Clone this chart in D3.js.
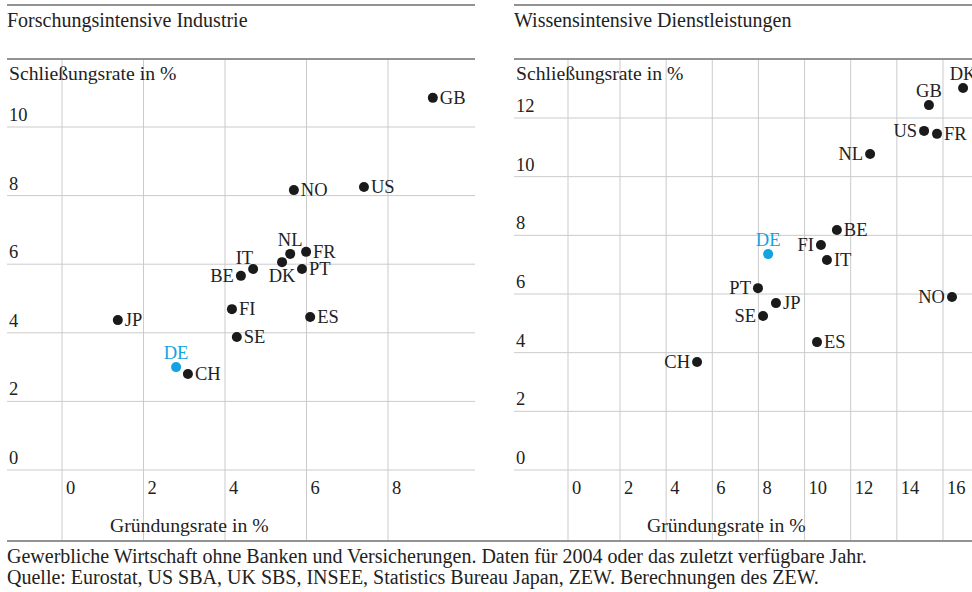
<!DOCTYPE html>
<html><head><meta charset="utf-8">
<script src="https://cdn.jsdelivr.net/npm/d3@7"></script>
<style>
body{margin:0;background:#fff}
svg{display:block}
text{font-family:"Liberation Serif","Times New Roman",serif;fill:#222}
</style>
</head><body><svg id="c" width="972" height="592"></svg>
<script>
// ---- data ----
const countriesIndustry   = ["GB","NO","US","NL","FR","IT","BE","DK","PT","FI","ES","JP","SE","DE","CH"];
const gruendungIndustry   = [9.1, 5.69, 7.41, 5.6, 5.99, 4.69, 4.39, 5.4, 5.89, 4.17, 6.09, 1.37, 4.29, 2.8, 3.09];
const schliessungIndustry = [10.85, 8.16, 8.25, 6.3, 6.36, 5.86, 5.66, 6.06, 5.86, 4.69, 4.46, 4.37, 3.88, 3.0, 2.8];

const countriesServices   = ["DK","GB","US","FR","NL","BE","FI","IT","DE","PT","JP","SE","NO","ES","CH"];
const gruendungServices   = [16.87, 15.39, 15.18, 15.74, 12.84, 11.4, 10.71, 10.97, 8.42, 7.98, 8.76, 8.2, 16.39, 10.54, 5.34];
const schliessungServices = [13.02, 12.44, 11.56, 11.46, 10.77, 8.18, 7.67, 7.16, 7.36, 6.2, 5.69, 5.25, 5.9, 4.36, 3.68];

const xTicksIndustry = [0,2,4,6,8];
const yTicksIndustry = [0,2,4,6,8,10];
const xTicksServices = [0,2,4,6,8,10,12,14,16];
const yTicksServices = [0,2,4,6,8,10,12];

const titles = ["Forschungsintensive Industrie","Wissensintensive Dienstleistungen"];
const yAxisTitle = "Schließungsrate in %";
const xAxisTitle = "Gründungsrate in %";
const footnotes = [
  "Gewerbliche Wirtschaft ohne Banken und Versicherungen. Daten für 2004 oder das zuletzt verfügbare Jahr.",
  "Quelle: Eurostat, US SBA, UK SBS, INSEE, Statistics Bureau Japan, ZEW. Berechnungen des ZEW."
];
const highlight = "DE";

// ---- layout ----
const svg = d3.select("#c");
const W = 972, H = 592;
const topLine = 5, plotTop = 59, plotBottom = 540;
const BLUE = "#13a3e0", DOT = "#1a1a1a", GRID = "#cbcbcb", RULE = "#6e6e6e";
const FS_TITLE = 20, FS_AXIS = 19.7, FS_TICK = 18.5, FS_LABEL = 18.5;

const labelSide = {
  industry: {GB:"r",NO:"r",US:"r",NL:"t",FR:"r",IT:"tl",BE:"l",DK:"b",PT:"r",FI:"r",ES:"r",JP:"r",SE:"r",DE:"t",CH:"r"},
  services: {DK:"t",GB:"t",US:"l",FR:"r",NL:"l",BE:"r",FI:"l",IT:"r",DE:"t",PT:"l",JP:"r",SE:"l",NO:"l",ES:"r",CH:"l"}
};

const panels = [
  { key:"industry", x0:7, x1:475, title:titles[0],
    countries:countriesIndustry, xs:gruendungIndustry, ys:schliessungIndustry,
    xTicks:xTicksIndustry, yTicks:yTicksIndustry,
    x: d3.scaleLinear().domain([0,8]).range([62,388]),
    y: d3.scaleLinear().domain([0,10]).range([470,127]),
    xTitleX:110 },
  { key:"services", x0:514, x1:972, title:titles[1],
    countries:countriesServices, xs:gruendungServices, ys:schliessungServices,
    xTicks:xTicksServices, yTicks:yTicksServices,
    x: d3.scaleLinear().domain([0,2,16]).range([568,620,943]),
    y: d3.scaleLinear().domain([0,12]).range([470,118]),
    xTitleX:647 }
];

panels.forEach(p => {
  const g = svg.append("g");
  // rules
  g.append("line").attr("x1",p.x0).attr("x2",p.x1).attr("y1",topLine).attr("y2",topLine)
    .attr("stroke",RULE).attr("stroke-width",1.5);
  g.append("text").attr("x",p.x0).attr("y",27).attr("font-size",FS_TITLE).text(p.title);
  g.append("line").attr("x1",p.x0).attr("x2",p.x1).attr("y1",plotTop).attr("y2",plotTop)
    .attr("stroke",RULE).attr("stroke-width",1.5);

  // grid
  g.selectAll(".hg").data(p.yTicks).join("line")
    .attr("x1",p.x0).attr("x2",p.x1)
    .attr("y1",d=>p.y(d)).attr("y2",d=>p.y(d))
    .attr("stroke",GRID).attr("stroke-width",1);
  g.selectAll(".vg").data(p.xTicks).join("line")
    .attr("x1",d=>p.x(d)).attr("x2",d=>p.x(d))
    .attr("y1",plotTop+1).attr("y2",plotBottom)
    .attr("stroke",GRID).attr("stroke-width",1);

  // tick labels
  g.selectAll(".yt").data(p.yTicks).join("text")
    .attr("x",p.x0+2).attr("y",d=>p.y(d)-6)
    .attr("font-size",FS_TICK).text(d=>d);
  g.selectAll(".xt").data(p.xTicks).join("text")
    .attr("x",d=>p.x(d)+4).attr("y",494)
    .attr("font-size",FS_TICK).text(d=>d);

  // axis titles
  g.append("text").attr("x",p.x0+2).attr("y",80).attr("font-size",FS_AXIS).text(yAxisTitle);
  g.append("text").attr("x",p.xTitleX).attr("y",532).attr("font-size",FS_AXIS).text(xAxisTitle);

  // points
  const pts = p.countries.map((c,i)=>({c, x:p.xs[i], y:p.ys[i]}));
  g.selectAll(".dot").data(pts).join("circle")
    .attr("cx",d=>p.x(d.x)).attr("cy",d=>p.y(d.y)).attr("r",5)
    .attr("fill",d=>d.c===highlight?BLUE:DOT);
  const off = {
    r:  {dx:7,  dy:6,  a:"start"},
    l:  {dx:-7, dy:6,  a:"end"},
    t:  {dx:0,  dy:-8, a:"middle"},
    tl: {dx:0,  dy:-5, a:"end"},
    b:  {dx:0,  dy:20, a:"middle"}
  };
  g.selectAll(".lab").data(pts).join("text")
    .attr("x",d=>p.x(d.x)+off[labelSide[p.key][d.c]].dx)
    .attr("y",d=>p.y(d.y)+off[labelSide[p.key][d.c]].dy)
    .attr("text-anchor",d=>off[labelSide[p.key][d.c]].a)
    .attr("font-size",FS_LABEL)
    .style("fill",d=>d.c===highlight?BLUE:"#222")
    .text(d=>d.c);
});

// bottom rule and footnotes
svg.append("line").attr("x1",7).attr("x2",W).attr("y1",541).attr("y2",541)
  .attr("stroke",RULE).attr("stroke-width",1.5);
svg.selectAll(".fn").data(footnotes).join("text")
  .attr("x",7).attr("y",(d,i)=>563+i*20.5)
  .attr("font-size",FS_TITLE).text(d=>d);
</script>
</body></html>
